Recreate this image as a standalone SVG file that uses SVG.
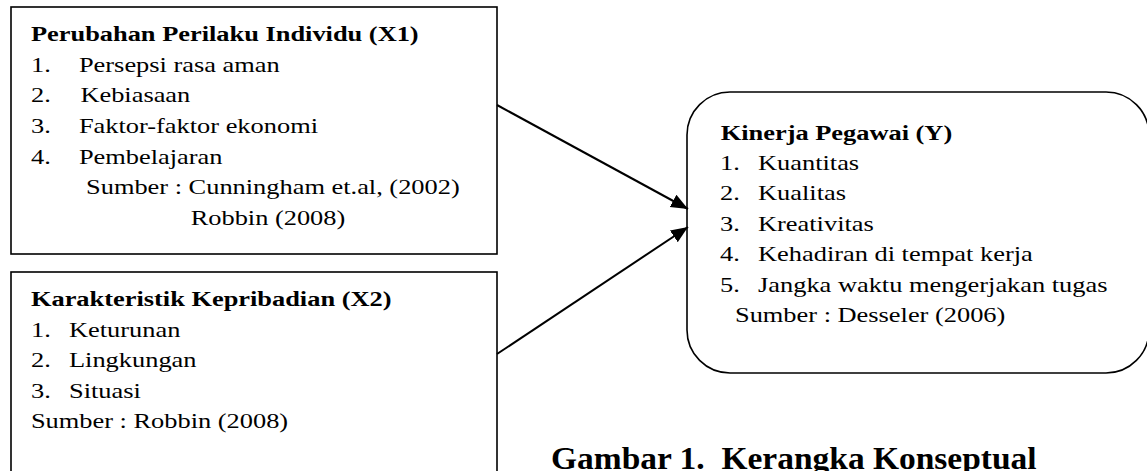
<svg xmlns="http://www.w3.org/2000/svg" width="1147" height="471" viewBox="0 0 1147 471">
  <style>
    text { font-family: "Liberation Serif", "Times New Roman", serif; font-size: 22px; fill: #000; }
    .b { font-weight: bold; }
    .cap { font-weight: bold; font-size: 31px; }
    .box { fill: #fff; stroke: #000; stroke-width: 1.6; }
    .conn { stroke: #000; stroke-width: 2; fill: none; marker-end: url(#ah); }
  </style>
  <defs>
    <marker id="ah" markerUnits="userSpaceOnUse" markerWidth="18" markerHeight="15" refX="17" refY="7" orient="auto">
      <path d="M0,0 L17,7 L0,14 z" fill="#000"/>
    </marker>
  </defs>

  <g id="node-x1">
    <rect class="box" x="11" y="7" width="486" height="247"/>
    <g transform="scale(1.2,1)">
      <text class="b" x="25.8" y="41">Perubahan Perilaku Individu (X1)</text>
      <text x="25.8" y="71.7">1.</text><text x="65.8" y="71.7">Persepsi rasa aman</text>
      <text x="25.8" y="102.4">2.</text><text x="67" y="102.4">Kebiasaan</text>
      <text x="25.8" y="133.1">3.</text><text x="65.8" y="133.1">Faktor-faktor ekonomi</text>
      <text x="25.8" y="163.8">4.</text><text x="65.8" y="163.8">Pembelajaran</text>
      <text x="71.7" y="194.5">Sumber : Cunningham et.al, (2002)</text>
      <text x="158.9" y="225.2">Robbin (2008)</text>
    </g>
  </g>

  <g id="node-x2">
    <rect class="box" x="11" y="272" width="486" height="215"/>
    <g transform="scale(1.2,1)">
      <text class="b" x="25.8" y="306">Karakteristik Kepribadian (X2)</text>
      <text x="25.8" y="337">1.</text><text x="57.5" y="337">Keturunan</text>
      <text x="25.8" y="367.5">2.</text><text x="57.5" y="367.5">Lingkungan</text>
      <text x="25.8" y="398">3.</text><text x="57.5" y="398">Situasi</text>
      <text x="25.8" y="428.5">Sumber : Robbin (2008)</text>
    </g>
  </g>

  <g id="node-y">
    <rect class="box" x="687" y="92" width="462" height="281" rx="43" ry="43"/>
    <g transform="scale(1.2,1)">
      <text class="b" x="600.6" y="140">Kinerja Pegawai (Y)</text>
      <text x="600" y="170">1.</text><text x="631.7" y="170">Kuantitas</text>
      <text x="600" y="200.5">2.</text><text x="631.7" y="200.5">Kualitas</text>
      <text x="600" y="231">3.</text><text x="631.7" y="231">Kreativitas</text>
      <text x="600" y="261.5">4.</text><text x="631.7" y="261.5">Kehadiran di tempat kerja</text>
      <text x="600" y="292">5.</text><text x="631.7" y="292">Jangka waktu mengerjakan tugas</text>
      <text x="612.5" y="322">Sumber : Desseler (2006)</text>
    </g>
  </g>

  <g id="connectors">
    <line class="conn" x1="497" y1="105" x2="688" y2="209"/>
    <line class="conn" x1="497" y1="354" x2="688" y2="227"/>
  </g>

  <g id="caption">
    <g transform="scale(1.08,1)">
      <text class="cap" x="510.2" y="469" xml:space="preserve">Gambar 1.  Kerangka Konseptual</text>
    </g>
  </g>
</svg>
